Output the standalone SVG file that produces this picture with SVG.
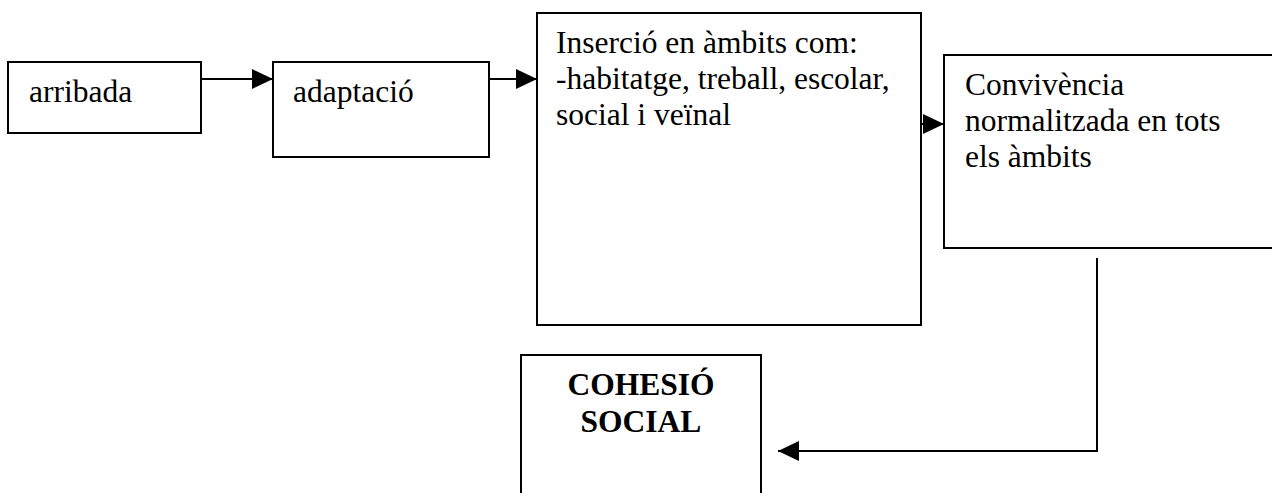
<svg xmlns="http://www.w3.org/2000/svg" width="1272" height="493" viewBox="0 0 1272 493">
<style>
.box{fill:#fff;stroke:#000;stroke-width:2}
.t{font-family:"Liberation Serif","Times New Roman",serif;font-size:31.5px;fill:#000}
.b{font-weight:bold;text-anchor:middle}
.c{fill:none;stroke:#000;stroke-width:2}
</style>
<defs>
<marker id="ah" markerUnits="userSpaceOnUse" markerWidth="22" markerHeight="22" refX="21" refY="10" orient="auto">
<path d="M0,0 L21,10 L0,20 Z" fill="#000"/>
</marker>
</defs>
<rect width="1272" height="493" fill="#fff"/>
<g id="arribada">
<rect class="box" x="8" y="62" width="193" height="71"/>
<text class="t" x="29" y="102">arribada</text>
</g>
<g id="adaptacio">
<rect class="box" x="273" y="62" width="216" height="95"/>
<text class="t" x="293" y="102">adaptació</text>
</g>
<g id="insercio">
<rect class="box" x="537" y="13" width="384" height="312"/>
<text class="t" x="556" y="53">Inserció en àmbits com:</text>
<text class="t" x="556" y="89">-habitatge, treball, escolar,</text>
<text class="t" x="556" y="125">social i veïnal</text>
</g>
<g id="convivencia">
<rect class="box" x="944" y="55" width="340" height="193"/>
<text class="t" x="965" y="95">Convivència</text>
<text class="t" x="965" y="131">normalitzada en tots</text>
<text class="t" x="965" y="167">els àmbits</text>
</g>
<g id="cohesio">
<rect class="box" x="521" y="355" width="240" height="150"/>
<text class="t b" x="641" y="395">COHESIÓ</text>
<text class="t b" x="641" y="432">SOCIAL</text>
</g>
<g id="connectors">
<path class="c" d="M201,79 H273" marker-end="url(#ah)"/>
<path class="c" d="M489,79 H537" marker-end="url(#ah)"/>
<path class="c" d="M921,124 H944" marker-end="url(#ah)"/>
<path class="c" d="M1097,258 V451 H778" marker-end="url(#ah)"/>
</g>
</svg>
